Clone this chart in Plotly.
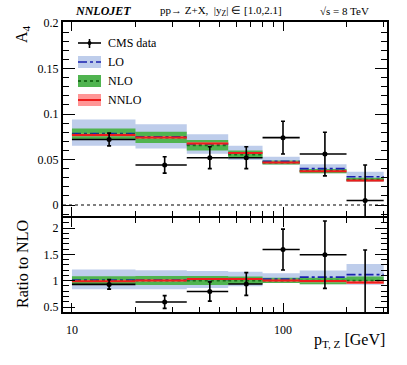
import plotly.graph_objects as go

# bins in pT,Z [GeV]
edges = [10, 20, 35, 55, 80, 120, 200, 300]

# theory predictions for A4 (central, up, down)
lo = [0.0785, 0.0750, 0.0670, 0.0570, 0.0480, 0.0400, 0.0310]
lo_up = [0.0940, 0.0886, 0.0777, 0.0650, 0.0530, 0.0447, 0.0366]
lo_dn = [0.0650, 0.0620, 0.0564, 0.0495, 0.0445, 0.0350, 0.0256]
nlo = [0.0775, 0.0740, 0.0655, 0.0555, 0.0465, 0.0375, 0.0278]
nlo_up = [0.0840, 0.0806, 0.0714, 0.0600, 0.0490, 0.0395, 0.0300]
nlo_dn = [0.0720, 0.0680, 0.0600, 0.0520, 0.0445, 0.0350, 0.0262]
nnlo = [0.0768, 0.0742, 0.0675, 0.0572, 0.0466, 0.0372, 0.0268]
nnlo_up = [0.0782, 0.0755, 0.0688, 0.0582, 0.0474, 0.0380, 0.0276]
nnlo_dn = [0.0755, 0.0730, 0.0662, 0.0562, 0.0458, 0.0364, 0.0260]

# CMS data
data_x = [15, 27.5, 45, 67, 100, 158, 245]
data_y = [0.072, 0.044, 0.052, 0.052, 0.074, 0.056, 0.005]
data_err = [0.007, 0.009, 0.012, 0.012, 0.018, 0.024, 0.039]

SERIF = "Liberation Serif"
W, H = 407, 365
L, R, T, B = 63, 20, 22, 53


def px(xp, yp):
    return (xp - L) / (W - L - R), (H - B - yp) / (H - T - B)


def segs(vals):
    xs, ys = [], []
    for i, v in enumerate(vals):
        xs += [edges[i], edges[i + 1], None]
        ys += [v, v, None]
    return xs, ys


def boxes(up, dn):
    xs, ys = [], []
    for i in range(len(up)):
        a, b = edges[i], edges[i + 1]
        xs += [a, b, b, a, a, None]
        ys += [up[i], up[i], dn[i], dn[i], up[i], None]
    return xs, ys


def ratio(vals):
    return [v / n for v, n in zip(vals, nlo)]


bands = [
    (lo_up, lo_dn, "rgba(190,205,235,1)"),
    (nlo_up, nlo_dn, "rgba(80,180,80,1)"),
    (nnlo_up, nnlo_dn, "rgba(255,150,150,1)"),
]
lines = [
    (lo, dict(color="#1a22b0", width=1.6, dash="dashdot")),
    (nlo, dict(color="#1a6e1a", width=1.8, dash="dot")),
    (nnlo, dict(color="#ee1c1c", width=2)),
]

xerr_p = [edges[i + 1] - x for i, x in enumerate(data_x)]
xerr_m = [x - edges[i] for i, x in enumerate(data_x)]

fig = go.Figure()

for row, (xa, ya) in enumerate([("x", "y"), ("x2", "y2")]):
    f = (lambda v: v) if row == 0 else ratio
    for up, dn, col in bands:
        bx, by = boxes(f(up), f(dn))
        fig.add_trace(go.Scatter(x=bx, y=by, fill="toself", fillcolor=col,
                                 line=dict(width=0), mode="lines", xaxis=xa, yaxis=ya,
                                 showlegend=False, hoverinfo="skip"))
    for vals, ln in lines:
        sx, sy = segs(f(vals))
        fig.add_trace(go.Scatter(x=sx, y=sy, mode="lines", line=ln, xaxis=xa, yaxis=ya,
                                 showlegend=False, hoverinfo="skip"))
    dy = data_y if row == 0 else ratio(data_y)
    de = data_err if row == 0 else ratio(data_err)
    fig.add_trace(go.Scatter(
        x=data_x, y=dy, mode="markers", xaxis=xa, yaxis=ya,
        marker=dict(color="black", size=5),
        error_x=dict(type="data", symmetric=False, array=xerr_p, arrayminus=xerr_m,
                     color="black", thickness=1.6, width=0),
        error_y=dict(type="data", array=de, color="black", thickness=1.6, width=2),
        showlegend=False))

xrange = [0.9576, 2.4928]
common = dict(showline=True, linecolor="black", linewidth=2, mirror="allticks",
              ticks="inside", tickcolor="black", showgrid=False, zeroline=False,
              tickfont=dict(family=SERIF, size=12, color="black"))
xminor = dict(tickmode="array", tickvals=[20, 30, 40, 50, 60, 70, 80, 90, 200, 300],
              ticks="inside", ticklen=5, tickcolor="black", tickwidth=1)

fig.update_layout(
    width=W, height=H, margin=dict(l=L, r=R, t=T, b=B),
    plot_bgcolor="white", paper_bgcolor="white", showlegend=False,
    xaxis=dict(type="log", range=xrange, domain=[0, 1], anchor="y",
               tickvals=[10, 100], ticklen=9, tickwidth=1, showticklabels=False,
               minor=xminor, **common),
    yaxis=dict(range=[-0.0121, 0.2011], domain=[0.331, 1], anchor="x",
               tickvals=[0, 0.05, 0.1, 0.15, 0.2], ticktext=["0", "0.05", "0.1", "0.15", "0.2"],
               ticklen=12, tickwidth=1,
               minor=dict(dtick=0.01, tick0=0, ticks="inside", ticklen=6, tickcolor="black"),
               **common),
    xaxis2=dict(type="log", range=xrange, domain=[0, 1], anchor="y2",
                tickvals=[10, 100], ticktext=["10", "100"], ticklen=9, tickwidth=1,
                ticklabelstandoff=6, minor=xminor, **common),
    yaxis2=dict(range=[0.405, 2.19], domain=[0, 0.324], anchor="x2",
                tickvals=[0.5, 1, 1.5, 2], ticktext=["0.5", "1", "1.5", "2"],
                ticklen=12, tickwidth=1,
                minor=dict(dtick=0.1, tick0=0, ticks="inside", ticklen=6, tickcolor="black"),
                **common),
)

# dotted zero line
fig.add_shape(type="line", xref="x domain", yref="y", x0=0, x1=1, y0=0, y1=0,
              line=dict(color="black", width=1.2, dash="dot"))

# legend (drawn by hand, ROOT style)
ann = []
lx0, lx1, tx = 78, 101, 106
cx, cy = px((lx0 + lx1) / 2, 43)
a0, _ = px(lx0, 0)
a1, _ = px(lx1, 0)
fig.add_shape(type="line", xref="paper", yref="paper", x0=a0, x1=a1, y0=cy, y1=cy,
              line=dict(color="black", width=1.6))
_, v0 = px(0, 39)
_, v1 = px(0, 48)
fig.add_shape(type="line", xref="paper", yref="paper", x0=cx, x1=cx, y0=v0, y1=v1,
              line=dict(color="black", width=1.6))
fig.add_shape(type="circle", xref="paper", yref="paper", x0=cx - 0.006, x1=cx + 0.006,
              y0=cy - 0.007, y1=cy + 0.007, fillcolor="black", line=dict(width=0))
ann.append(("CMS data", 43))
for (up, dn, col), (vals, ln), name, yc in zip(bands, lines, ["LO", "NLO", "NNLO"], [62, 81, 100]):
    _, b0 = px(0, yc + 6)
    _, b1 = px(0, yc - 6)
    _, yy = px(0, yc)
    fig.add_shape(type="rect", xref="paper", yref="paper", x0=a0, x1=a1, y0=b0, y1=b1,
                  fillcolor=col, line=dict(width=0))
    fig.add_shape(type="line", xref="paper", yref="paper", x0=a0, x1=a1, y0=yy, y1=yy,
                  line=ln)
    ann.append((name, yc))
for text, yc in ann:
    x, y = px(tx, yc)
    fig.add_annotation(x=x, y=y, xref="paper", yref="paper", text=text, showarrow=False,
                       xanchor="left", yanchor="middle",
                       font=dict(family=SERIF, size=12, color="black"))

# header texts
for text, xp, anchor, size in [
    ("<b><i>NNLOJET</i></b>", 73, "left", 12),
    ("pp\u2192 Z+X,  |y<sub>Z</sub>| \u2208 [1.0,2.1]", 158, "left", 11),
    ("\u221As = 8 TeV", 318, "left", 11),
]:
    x, y = px(xp, 11)
    fig.add_annotation(x=x, y=y, xref="paper", yref="paper", text=text, showarrow=False,
                       xanchor=anchor, yanchor="middle",
                       font=dict(family=SERIF, size=size, color="black"))

# axis titles
x, y = px(22, 23)
fig.add_annotation(x=x, y=y, xref="paper", yref="paper", text="A<sub>4</sub>", showarrow=False,
                   textangle=-90, xanchor="center", yanchor="top",
                   font=dict(family=SERIF, size=16, color="black"))
x, y = px(22, 264)
fig.add_annotation(x=x, y=y, xref="paper", yref="paper", text="Ratio to NLO", showarrow=False,
                   textangle=-90, xanchor="center", yanchor="middle",
                   font=dict(family=SERIF, size=16, color="black"))
x, y = px(387, 340)
fig.add_annotation(x=x, y=y, xref="paper", yref="paper", text="p<sub>T, Z</sub> [GeV]",
                   showarrow=False, xanchor="right", yanchor="middle",
                   font=dict(family=SERIF, size=16, color="black"))

fig.write_html("out.html", config={"displayModeBar": False},
               post_script="document.body.style.margin='0';")
